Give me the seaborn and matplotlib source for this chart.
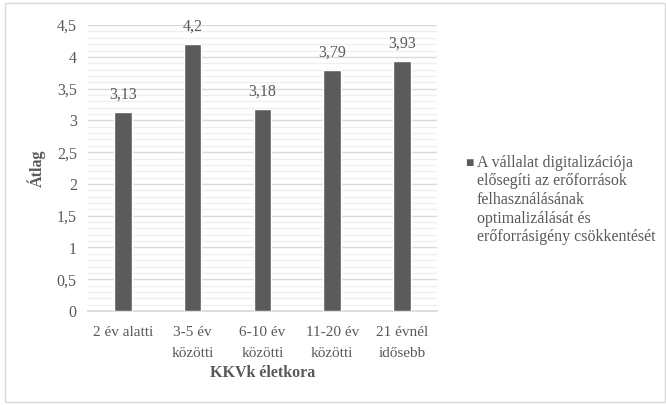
import matplotlib
matplotlib.use("Agg")
import matplotlib.pyplot as plt
import seaborn as sns
import pandas as pd
import numpy as np
from matplotlib.patches import Rectangle

categories = ["2 év alatti", "3-5 év\nközötti", "6-10 év\nközötti", "11-20 év\nközötti", "21 évnél\nidősebb"]
values = [3.13, 4.2, 3.18, 3.79, 3.93]
value_labels = ["3,13", "4,2", "3,18", "3,79", "3,93"]
yticks = [0, 0.5, 1, 1.5, 2, 2.5, 3, 3.5, 4, 4.5]
ytick_labels = ["0", "0,5", "1", "1,5", "2", "2,5", "3", "3,5", "4", "4,5"]
legend_label = ("A vállalat digitalizációja\nelősegíti az erőforrások\nfelhasználásának\n"
                "optimalizálását és\nerőforrásigény csökkentését")

sns.set_theme(style="white")
plt.rcParams['font.family'] = ['Liberation Serif', 'DejaVu Serif']

txt = "#595959"
bar_color = "#5b5b5b"
fs = 11

df = pd.DataFrame({"cat": categories, "val": values})

fig = plt.figure(figsize=(6.66, 4.05), dpi=100)
ax = fig.add_axes([0.132, 0.232, 0.524, 0.706])

ax.set_ylim(0, 4.5)
ax.set_yticks(yticks)
ax.set_yticks(np.arange(0, 4.5, 0.1), minor=True)
ax.grid(axis="y", which="major", color="#d9d9d9", linewidth=1.0, zorder=0)
ax.grid(axis="y", which="minor", color="#efefef", linewidth=0.9, zorder=0)
ax.set_axisbelow(True)

sns.barplot(data=df, x="cat", y="val", color=bar_color, width=0.25, ax=ax,
            saturation=1, zorder=3)

ax.set_yticklabels(ytick_labels, fontsize=11.5, color=txt)
ax.set_xticks(range(len(categories)))
ax.set_xticklabels(categories, fontsize=fs, color=txt, linespacing=1.75)
ax.tick_params(axis="x", length=0, pad=11)
ax.tick_params(axis="y", which="both", length=0, pad=8)

for i, (v, lbl) in enumerate(zip(values, value_labels)):
    ax.annotate(lbl, (i, v), xytext=(0, 7), textcoords="offset points",
                ha="center", va="bottom", fontsize=11.5, color=txt)

for s in ["top", "right", "left"]:
    ax.spines[s].set_visible(False)
ax.spines["bottom"].set_color("#d9d9d9")

ax.set_xlabel("KKVk életkora", fontsize=11.5, fontweight="bold", color=txt, labelpad=4)
ax.set_ylabel("Átlag", fontsize=11.5, fontweight="bold", color=txt, labelpad=8)

# legend
fig.text(0.698, 0.596, "\u25A0", fontsize=10, color=bar_color, ha="left", va="center")
fig.text(0.716, 0.618, legend_label, fontsize=11.5, color=txt, ha="left", va="top",
         linespacing=1.22)

fig.patches.append(Rectangle((0.008, 0.008), 0.99, 0.984, transform=fig.transFigure,
                             fill=False, edgecolor="#d9d9d9", linewidth=1.0))

fig.savefig("out.png", dpi=100)
